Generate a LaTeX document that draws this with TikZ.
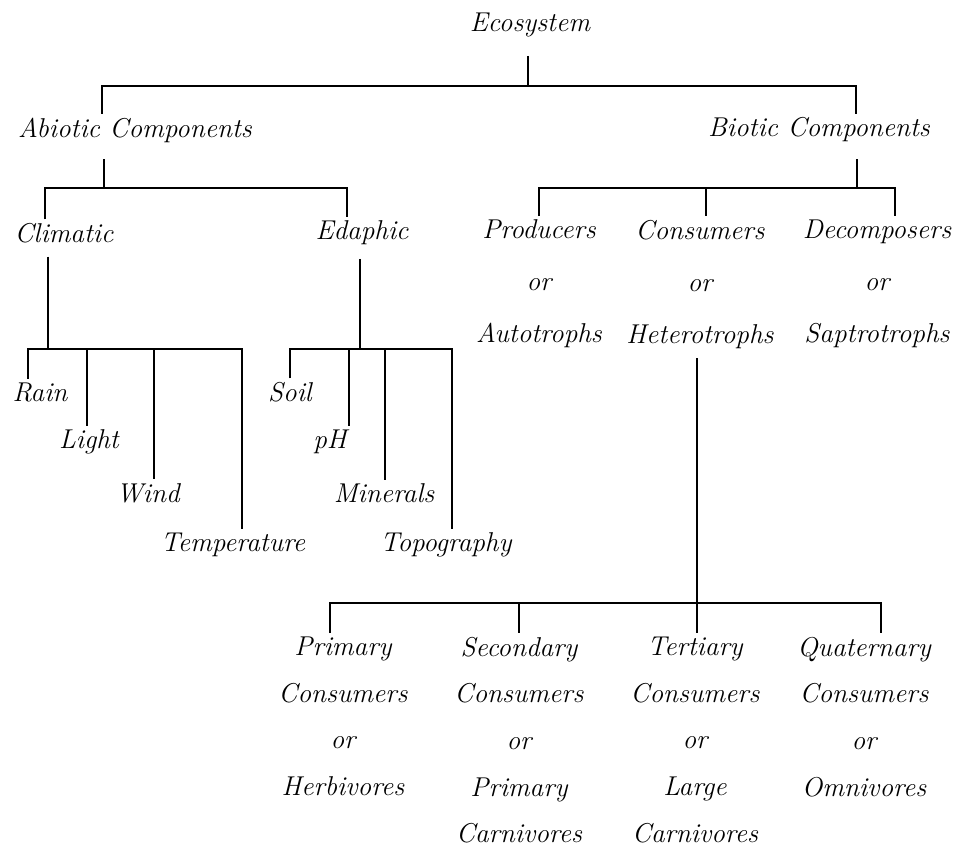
\documentclass[tikz,border=0pt]{standalone}
\usepackage{tikz}
\usetikzlibrary{positioning}
\begin{document}
\begin{tikzpicture}[x=0.02cm,y=-0.02cm,
    lbl/.style={font=\fontsize{15.5}{18}\selectfont\itshape,inner sep=2pt},
    stack/.style={lbl,align=center,anchor=north},
    tree/.style={line width=1.4pt}]
  \useasboundingbox (0,0) rectangle (955,852);
  \node[lbl] (eco) at (530,25) {Ecosystem};
  \node[lbl] (abio) at (135,130) {Abiotic Components};
  \node[lbl] (bio) at (819,130) {Biotic Components};
  \node[lbl] (clim) at (64,233) {Climatic};
  \node[lbl] (edap) at (362,233) {Edaphic};
  \node[stack,font=\fontsize{15.5}{29.6}\selectfont\itshape] (prod) at (539,216) {Producers\\or\\Autotrophs};
  \node[stack,font=\fontsize{15.5}{29.6}\selectfont\itshape] (cons) at (700,216) {Consumers\\or\\Heterotrophs};
  \node[stack,font=\fontsize{15.5}{29.6}\selectfont\itshape] (deco) at (877,216) {Decomposers\\or\\Saptrotrophs};
  \node[lbl] (rain) at (40,392) {Rain};
  \node[lbl] (light) at (89,442) {Light};
  \node[lbl] (wind) at (148,493) {Wind};
  \node[lbl] (temp) at (233,545) {Temperature};
  \node[lbl] (soil) at (290,392) {Soil};
  \node[lbl] (ph) at (330,442) {pH};
  \node[lbl] (mine) at (384,493) {Minerals};
  \node[lbl] (topo) at (446,545) {Topography};
  \node[stack,font=\fontsize{15.5}{26.6}\selectfont\itshape] (prim) at (343,633) {Primary\\Consumers\\or\\Herbivores};
  \node[stack,font=\fontsize{15.5}{26.6}\selectfont\itshape] (seco) at (519,633) {Secondary\\Consumers\\or\\Primary\\Carnivores};
  \node[stack,font=\fontsize{15.5}{26.6}\selectfont\itshape] (tert) at (695,633) {Tertiary\\Consumers\\or\\Large\\Carnivores};
  \node[stack,font=\fontsize{15.5}{26.6}\selectfont\itshape] (quat) at (864,633) {Quaternary\\Consumers\\or\\Omnivores};

  \coordinate (t0) at (528,86);
  \coordinate (t1) at (102,86);
  \coordinate (t2) at (856,86);
  \draw[tree,shorten <=0.3cm] (eco.south -| t0) -- (t0);
  \draw[tree] (t1 |- abio.north) -- (t1) -- (t2) -- (t2 |- bio.north);

  \coordinate (a0) at (104,188);
  \coordinate (a1) at (45,188);
  \coordinate (a2) at (347,188);
  \draw[tree,shorten <=0.26cm] (abio.south -| a0) -- (a0);
  \draw[tree] (a1 |- clim.north) -- (a1) -- (a2) -- (a2 |- edap.north);

  \coordinate (b0) at (857,188);
  \coordinate (b1) at (539,188);
  \coordinate (b2) at (706,188);
  \coordinate (b3) at (895,188);
  \draw[tree,shorten <=0.26cm] (bio.south -| b0) -- (b0);
  \draw[tree] (b1 |- prod.north) -- (b1) -- (b3) -- (b3 |- deco.north);
  \draw[tree] (b2) -- (b2 |- cons.north);

  \coordinate (c0) at (48,349);
  \coordinate (c1) at (28,349);
  \coordinate (c2) at (87,349);
  \coordinate (c3) at (154,349);
  \coordinate (c4) at (242,349);
  \draw[tree,shorten <=0.2cm] (clim.south -| c0) -- (c0);
  \draw[tree] (c1 |- rain.north) -- (c1) -- (c4) -- (c4 |- temp.north);
  \draw[tree] (c2) -- (c2 |- light.north);
  \draw[tree] (c3) -- (c3 |- wind.north);

  \coordinate (e0) at (360,349);
  \coordinate (e1) at (290,349);
  \coordinate (e2) at (349,349);
  \coordinate (e3) at (385,349);
  \coordinate (e4) at (452,349);
  \draw[tree,shorten <=0.2cm] (edap.south -| e0) -- (e0);
  \draw[tree] (e1 |- soil.north) -- (e1) -- (e4) -- (e4 |- topo.north);
  \draw[tree] (e2) -- (e2 |- ph.north);
  \draw[tree] (e3) -- (e3 |- mine.north);

  \coordinate (h0) at (697,603);
  \coordinate (h1) at (330,603);
  \coordinate (h2) at (519,603);
  \coordinate (h3) at (881,603);
  \draw[tree,shorten <=0.12cm] (cons.south -| h0) -- (h0);
  \draw[tree] (h1 |- prim.north) -- (h1) -- (h3) -- (h3 |- quat.north);
  \draw[tree] (h2) -- (h2 |- seco.north);
  \draw[tree] (h0) -- (h0 |- tert.north);
\end{tikzpicture}
\end{document}
